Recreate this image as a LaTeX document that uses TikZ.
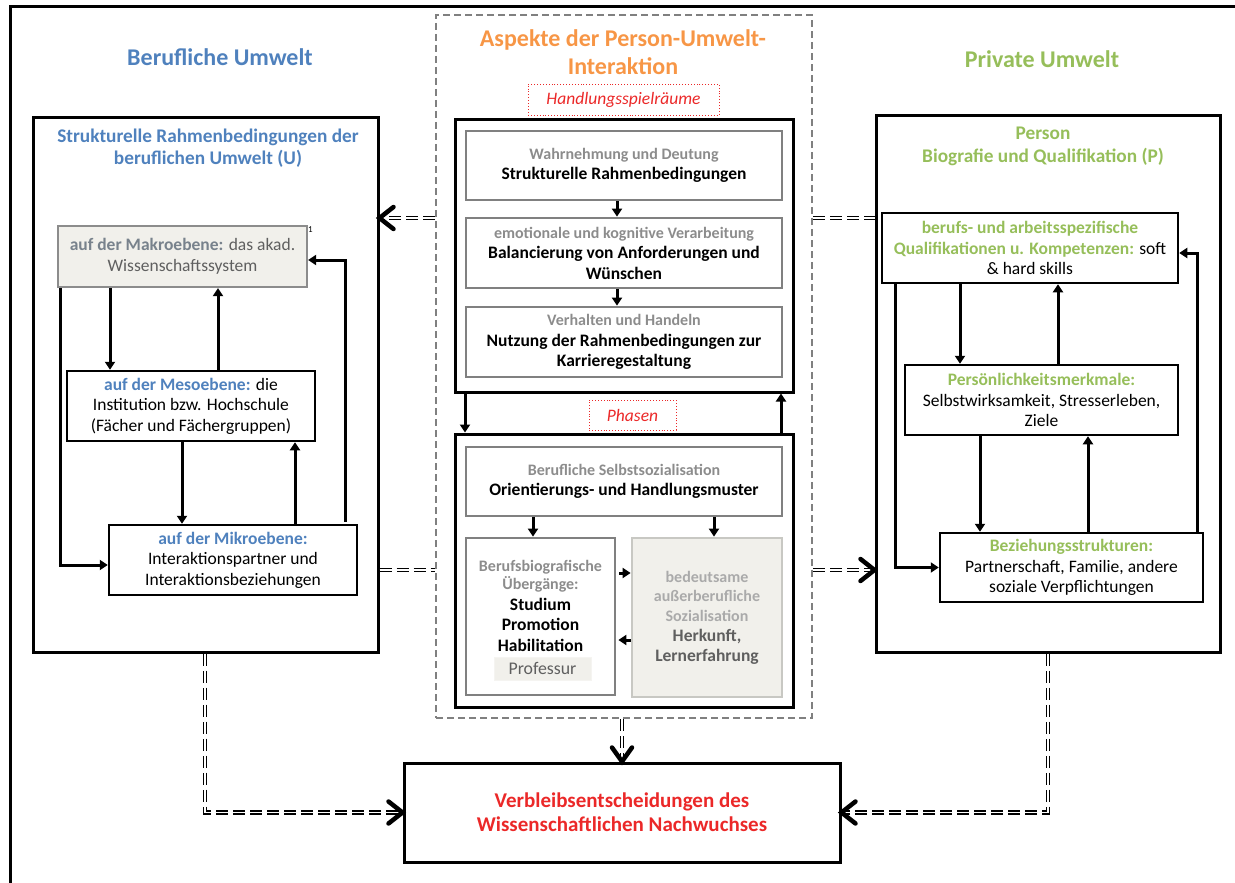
\documentclass[tikz,border=0pt]{standalone}
\usepackage{fontspec}
\setmainfont{Carlito}
\usetikzlibrary{arrows.meta,calc}
\definecolor{cblue}{RGB}{79,129,189}
\definecolor{cgreen}{RGB}{150,190,90}
\definecolor{corange}{RGB}{247,150,70}
\definecolor{cred}{RGB}{235,40,40}
\definecolor{cgrey}{RGB}{140,140,140}
\definecolor{cgreyb}{RGB}{128,128,128}
\definecolor{cmakrotxt}{RGB}{120,130,140}
\definecolor{cdark}{RGB}{95,95,95}
\definecolor{cfill}{RGB}{241,240,235}
\definecolor{clight}{RGB}{170,170,170}
\definecolor{clightb}{RGB}{200,200,195}
\newcommand{\fsz}[2]{\fontsize{#1}{#2}\selectfont}
\newcommand{\gl}[1]{{\fontsize{16}{20.5}\selectfont\color{cgrey}\bfseries #1}}
\newcommand{\bl}[1]{{\bfseries #1}}
\tikzset{
  bigframe/.style={draw, line width=3pt, inner sep=0pt},
  lvlbox/.style={draw, line width=2.5pt, inner sep=0pt, align=center, font=\fsz{17.5}{20.5}},
  gbox/.style={draw=cgreyb, line width=2.8pt, inner sep=0pt, align=center, font=\fsz{17.5}{20.5}},
  arr/.style={line width=3pt, -{Triangle[length=8pt,width=10pt]}},
  dbl/.style={draw=black, double=white, double distance=1.6pt, line width=1.3pt, dash pattern=on 12pt off 5pt},
  chev/.style={line width=4.5pt, line cap=round, line join=miter},
  dotbox/.style={draw=cred, dotted, line width=0.9pt, inner sep=0pt, font=\fsz{17.5}{20}\itshape, text=cred}
}
\begin{document}
\begin{tikzpicture}[x=1pt,y=-1pt]
\useasboundingbox (0,0) rectangle (1235,883);
% outer frame
\draw[line width=3pt] (10,883) -- (10,7) -- (1235,7);

% ---------- left side
\node[font=\fsz{24}{28}\bfseries, text=cblue] (tberuf) at (220,57) {Berufliche Umwelt};
\node[bigframe, minimum width=345, minimum height=535] (lbox) at (205.5,384.5) {};
\node[font=\fsz{19.3}{22}\bfseries, text=cblue, align=center] (tlbox) at (208,148) {Strukturelle Rahmenbedingungen der\\beruflichen Umwelt (U)};
\node[draw=cgrey, fill=cfill, line width=2.2pt, minimum width=249, minimum height=61, inner sep=0pt, align=center, font=\fsz{17.5}{21}, text=cdark] (makro) at (182.5,256.5)
  {{\color{cmakrotxt}\bfseries auf der Makroebene:} das akad.\\Wissenschaftssystem};
\node[font=\fsz{9}{10}, anchor=south west, inner sep=0pt] (fn) at (308,233) {1};
\node[lvlbox, minimum width=248, minimum height=70] (meso) at (191,406)
  {{\color{cblue}\bfseries auf der Mesoebene:} die\\Institution bzw. Hochschule\\(Fächer und Fächergruppen)};
\node[lvlbox, minimum width=248, minimum height=70] (mikro) at (233,560)
  {{\color{cblue}\bfseries auf der Mikroebene:}\\Interaktionspartner und\\Interaktionsbeziehungen};
\draw[arr] (110,0 |- makro.south) -- (110,0 |- meso.north);
\draw[arr] (218,0 |- meso.north) -- (218,0 |- makro.south);
\draw[arr] (60,0 |- makro.south) |- ([yshift=-5pt]mikro.west);
\draw[arr] (182,0 |- meso.south) -- (182,0 |- mikro.north);
\draw[arr] (295,0 |- mikro.north) -- (295,0 |- meso.south);
\draw[arr] ([yshift=2pt]345,0 |- mikro.north) |- ([yshift=-3.5pt]makro.east);

% ---------- right side
\node[font=\fsz{24}{28}\bfseries, text=cgreen] (tpriv) at (1042,59) {Private Umwelt};
\node[bigframe, minimum width=344, minimum height=537] (rbox) at (1048,383.5) {};
\node[font=\fsz{19.3}{23}\bfseries, text=cgreen, align=center] (trbox) at (1043,146.5) {Person\\Biografie und Qualifikation (P)};
\node[lvlbox, minimum width=296, minimum height=70] (qual) at (1030,248)
  {{\color{cgreen}\bfseries berufs- und arbeitsspezifische}\\{\color{cgreen}\bfseries Qualifikationen u. Kompetenzen:} soft\\\& hard skills};
\node[lvlbox, minimum width=273, minimum height=70] (pers) at (1041.5,400)
  {{\color{cgreen}\bfseries Persönlichkeitsmerkmale:}\\Selbstwirksamkeit, Stresserleben,\\Ziele};
\node[lvlbox, minimum width=263, minimum height=69] (bez) at (1071.5,567.5)
  {{\color{cgreen}\bfseries Beziehungsstrukturen:}\\Partnerschaft, Familie, andere\\soziale Verpflichtungen};
\draw[arr] (895,0 |- qual.south) |- (bez.west);
\draw[arr] (960,0 |- qual.south) -- (960,0 |- pers.north);
\draw[arr] (1058,0 |- pers.north) -- (1058,0 |- qual.south);
\draw[arr] (980,0 |- pers.south) -- (980,0 |- bez.north);
\draw[arr] (1088,0 |- bez.north) -- (1088,0 |- pers.south);
\draw[arr] (1197,0 |- bez.north) |- ([yshift=-5pt]qual.east);

% ---------- centre
\node[draw=cgreyb, dash pattern=on 7pt off 4pt, line width=2pt, minimum width=376, minimum height=703, inner sep=0pt] (cbox) at (624,366.5) {};
\node[font=\fsz{24}{28}\bfseries, text=corange, align=center] (tcbox) at (623,52) {Aspekte der Person-Umwelt-\\Interaktion};
\node[dotbox, minimum width=191, minimum height=31] (handl) at (623.5,99.5) {Handlungsspielräume};
\node[bigframe, minimum width=338, minimum height=273] (box1) at (624,255.5) {};
\node[gbox, minimum width=316, minimum height=69] (sa) at (624,165.5)
  {\gl{Wahrnehmung und Deutung}\\\bl{Strukturelle Rahmenbedingungen}};
\node[gbox, minimum width=316, minimum height=70] (sb) at (624,253)
  {\gl{emotionale und kognitive Verarbeitung}\\\bl{Balancierung von Anforderungen und}\\\bl{Wünschen}};
\node[gbox, minimum width=316, minimum height=70] (sc) at (624,342)
  {\gl{Verhalten und Handeln}\\\bl{Nutzung der Rahmenbedingungen zur}\\\bl{Karrieregestaltung}};
\draw[arr] (617,0 |- sa.south) -- (617,0 |- sb.north);
\draw[arr] (617,0 |- sb.south) -- (617,0 |- sc.north);
\node[dotbox, minimum width=87, minimum height=30] (phasen) at (632.5,415) {Phasen};
\node[bigframe, minimum width=338, minimum height=273] (box2) at (624,570.5) {};
\draw[arr] (465,0 |- box1.south) -- (465,0 |- box2.north);
\draw[arr] (781,0 |- box2.north) -- (781,0 |- box1.south);
\node[gbox, minimum width=316, minimum height=69] (sd) at (624,481.5)
  {\gl{Berufliche Selbstsozialisation}\\\bl{Orientierungs- und Handlungsmuster}};
\node[gbox, minimum width=149, minimum height=157] (se) at (540.5,616.5) {};
\node[align=center, inner sep=0pt, font=\fsz{17.5}{20.5}] (setxt) at (540.5,606)
  {\gl{Berufsbiografische}\\[-2.5pt]\gl{Übergänge:}\\\bl{Studium}\\\bl{Promotion}\\\bl{Habilitation}};
\node[fill=cfill, draw=cfill!70!white, minimum width=97, minimum height=23, inner sep=0pt, font=\fsz{17.8}{21}, text=cdark] (prof) at (542.5,668.5) {Professur};
\node[draw=clightb, fill=cfill, line width=2.8pt, minimum width=150, minimum height=159, inner sep=0pt, align=center, font=\fsz{17.5}{19.5}] (sf) at (707,617.5)
  {{\fsz{16}{19.5}\color{clight}\bfseries bedeutsame}\\{\fsz{16}{19.5}\color{clight}\bfseries außerberufliche}\\{\fsz{16}{19.5}\color{clight}\bfseries Sozialisation}\\[1pt]{\color{cdark}\bfseries Herkunft,}\\{\color{cdark}\bfseries Lernerfahrung}};
\draw[arr] (533,0 |- sd.south) -- (533,0 |- se.north);
\draw[arr] (714,0 |- sd.south) -- (714,0 |- sf.north);
\draw[arr] ([xshift=3pt]se.east |- 0,573) -- (sf.west |- 0,573);
\draw[arr] (sf.west |- 0,640) -- ([xshift=2pt]se.east |- 0,640);

% ---------- result
\node[bigframe, minimum width=436, minimum height=99, align=center, text=cred, font=\fsz{21}{24}\bfseries] (res) at (622,812.5)
  {Verbleibsentscheidungen des\\Wissenschaftlichen Nachwuchses};

% ---------- double dashed connectors
\coordinate (lt) at (lbox.east |- 0,218);
\coordinate (rb) at (rbox.west |- 0,570);
\draw[dbl] (cbox.west |- 0,218) -- ([xshift=4pt]lt);
\draw[chev] ($(lt)+(14,-11)$) -- (lt) -- ($(lt)+(14,11)$);
\draw[dbl] (cbox.east |- 0,218) -- (rbox.west |- 0,218);
\draw[dbl] (lbox.east |- 0,570) -- (cbox.west |- 0,570);
\draw[dbl] (cbox.east |- 0,570) -- ([xshift=-4pt]rb);
\draw[chev] ($(rb)+(-14,-11)$) -- (rb) -- ($(rb)+(-14,11)$);
\draw[dbl] (205,0 |- lbox.south) |- ([xshift=-4pt]res.west);
\draw[chev] ($(res.west)+(-14,-11)$) -- (res.west) -- ($(res.west)+(-14,11)$);
\draw[dbl] (1048,0 |- rbox.south) |- ([xshift=4pt]res.east);
\draw[chev] ($(res.east)+(14,-11)$) -- (res.east) -- ($(res.east)+(14,11)$);
\draw[dbl] (622,0 |- cbox.south) -- ([yshift=4pt]res.north);
\draw[chev] ($(res.north)+(-10,-14)$) -- (res.north) -- ($(res.north)+(10,-14)$);
\end{tikzpicture}
\end{document}
